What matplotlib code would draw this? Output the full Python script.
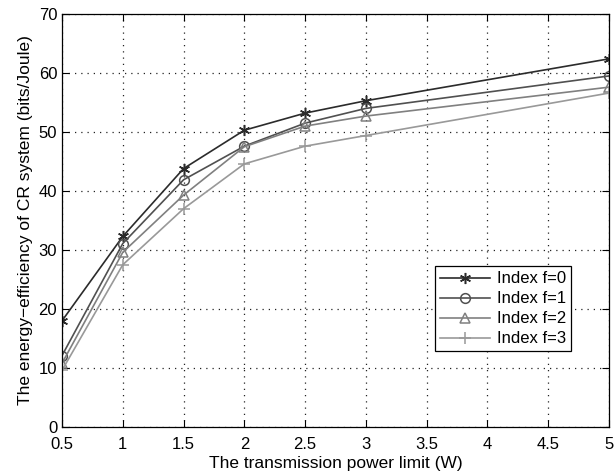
import matplotlib
matplotlib.use('Agg')
import matplotlib.pyplot as plt

plt.rcParams['font.family'] = ['Liberation Sans', 'DejaVu Sans']

power = [0.5, 1, 1.5, 2, 2.5, 3, 5]
ee_f0 = [18.0, 32.3, 43.8, 50.3, 53.2, 55.3, 62.4]
ee_f1 = [12.1, 31.1, 41.9, 47.6, 51.5, 54.0, 59.5]
ee_f2 = [10.8, 29.6, 39.3, 47.5, 51.0, 52.7, 57.6]
ee_f3 = [9.6, 27.5, 37.0, 44.6, 47.6, 49.4, 56.6]
labels = ['Index f=0', 'Index f=1', 'Index f=2', 'Index f=3']

fig = plt.figure(figsize=(6.15, 4.76), dpi=100)
ax = fig.add_axes([62 / 615, 1 - 427 / 476, 547 / 615, 413 / 476])

# asterisk for f=0, like the matlab '*'
styles = [('#2b2b2b', (6, 2, 0), 8), ('#505050', 'o', 7), ('#808080', '^', 7), ('#999999', '+', 8)]
for ys, lab, (c, m, ms) in zip([ee_f0, ee_f1, ee_f2, ee_f3], labels, styles):
    ax.plot(power, ys, color=c, marker=m, markersize=ms, markerfacecolor='none',
            markeredgecolor=c, markeredgewidth=1.1, linewidth=1.2, label=lab)

ax.set_xlim(0.5, 5)
ax.set_ylim(0, 70)
ax.set_xticks([0.5, 1, 1.5, 2, 2.5, 3, 3.5, 4, 4.5, 5])
ax.set_xticklabels(['0.5', '1', '1.5', '2', '2.5', '3', '3.5', '4', '4.5', '5'])
ax.set_yticks(range(0, 71, 10))
ax.grid(True, linestyle=(0, (1, 4)), color='#222222', linewidth=0.9)
ax.tick_params(direction='in', labelsize=12, length=5)
ax.tick_params(axis='x', pad=7)
ax.tick_params(top=True, right=True)
for s in ax.spines.values():
    s.set_linewidth(0.9)

ax.set_xlabel('The transmission power limit (W)', fontsize=12.5, labelpad=3)
ax.set_ylabel('The energy\u2212efficiency of CR system (bits/Joule)', fontsize=12.5)

leg = ax.legend(loc='upper left', bbox_to_anchor=(365 / 547, 1 - 244 / 413), fontsize=12,
                fancybox=False, edgecolor='black', framealpha=1,
                handlelength=3, borderpad=0.3, labelspacing=0.3, handletextpad=0.4)
leg.get_frame().set_linewidth(0.9)

fig.savefig('out.png', dpi=100)
